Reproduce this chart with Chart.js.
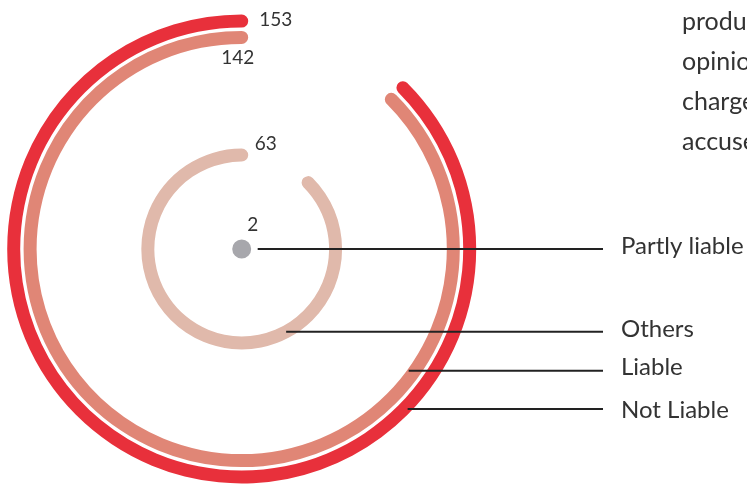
<!DOCTYPE html>
<html>
<head>
<meta charset="utf-8">
<script src="https://cdn.jsdelivr.net/npm/chart.js@4.4.0/dist/chart.umd.min.js"></script>
<style>
  html, body { margin: 0; padding: 0; background: #fff; overflow: hidden; }
  #wrap { position: relative; width: 747px; height: 484px; overflow: hidden; font-family: Lato, "Open Sans", sans-serif; }
  #chart { position: absolute; left: 0; top: 0; }
  #note { position: absolute; left: 682px; top: 0; font-size: 25px; line-height: 40px; color: #333; white-space: nowrap; }
</style>
</head>
<body>
<div id="wrap">
  <canvas id="chart" width="747" height="484"></canvas>
  <div id="note">products<br>opinion<br>charged<br>accused</div>
</div>
<script>
// verdict categories, outermost ring first
const categories = ["Not Liable", "Liable", "Others", "Partly liable"];
const counts = [153, 142, 63, 2];
const colors = ["#e8303b", "#e08676", "#e0b9ab", "#a7a7ac"];

const RADIUS = 234.5;   // outer edge of the biggest ring
const RING = 13;        // ring thickness
const SWEEP = 315;      // every ring opens at the top right

// ring centre radius is proportional to the count
const pxPerCase = (RADIUS - RING / 2) / Math.max(...counts);

const datasets = [];
counts.forEach((v, i) => {
  const mid = v * pxPerCase;
  if (i === counts.length - 1) {
    // tiny count -> just a dot in the middle
    datasets.push({
      label: categories[i], data: [v], weight: mid + RING / 2,
      circumference: 360, rotation: 0,
      backgroundColor: colors[i], borderWidth: 0
    });
    return;
  }
  const cap = (RING / 2) / mid * 180 / Math.PI; // round end sticks out past the sweep
  datasets.push({
    label: categories[i], data: [v], weight: RING,
    circumference: SWEEP + 2 * cap, rotation: 360 - SWEEP - cap,
    backgroundColor: colors[i], borderWidth: 0, borderRadius: RING / 2
  });
  const next = counts[i + 1] * pxPerCase + RING / 2;
  // empty ring to push the next one inwards
  datasets.push({ label: "", data: [1], weight: (mid - RING / 2) - next, backgroundColor: "rgba(0,0,0,0)", borderWidth: 0 });
});

const ringIndex = i => (i === counts.length - 1 ? datasets.length - 1 : i * 2);

// value labels: offset from the top of each ring
const valueLabels = [
  { dx: 17.5, dy: -1, align: "left" },
  { dx: -4, dy: 20, align: "center" },
  { dx: 13, dy: -11, align: "left" },
  { dx: 11, dy: -24, align: "center" }
];
// leader lines to the category names on the right
const leaders = [
  { dy: 160, from: "outer", textDy: 1 },
  { dy: 121.7, from: "inner", textDy: -3.5 },
  { dy: 82.7, from: "mid", textDy: -2.5 },
  { dy: 0, from: "dot", textDy: -3 }
];

const annotate = {
  id: "annotate",
  afterDatasetsDraw(chart) {
    const ctx = chart.ctx;
    ctx.save();
    counts.forEach((v, i) => {
      const arc = chart.getDatasetMeta(ringIndex(i)).data[0];
      const cx = arc.x, cy = arc.y;
      const inner = arc.innerRadius, outer = arc.outerRadius;
      const mid = i === counts.length - 1 ? 0 : (inner + outer) / 2;

      // leader line
      const L = leaders[i];
      const y = cy + L.dy;
      let x0;
      if (L.from === "dot") x0 = cx + outer + 6.5;
      else {
        const r = L.from === "outer" ? outer - 4 : L.from === "inner" ? inner + 1.5 : mid;
        x0 = cx + Math.sqrt(r * r - L.dy * L.dy);
      }
      ctx.strokeStyle = "#222";
      ctx.lineWidth = 2;
      ctx.beginPath();
      ctx.moveTo(x0, y);
      ctx.lineTo(603, y);
      ctx.stroke();

      ctx.fillStyle = "#333";
      ctx.textBaseline = "middle";
      ctx.font = "24px Lato";
      ctx.textAlign = "left";
      ctx.fillText(categories[i], 621, y + L.textDy);

      // count
      const V = valueLabels[i];
      ctx.font = "19px Lato";
      ctx.textAlign = V.align;
      ctx.fillText(String(v), cx + V.dx, cy - mid + V.dy);
    });
    ctx.restore();
  }
};

new Chart(document.getElementById("chart"), {
  type: "doughnut",
  data: { labels: ["count"], datasets },
  options: {
    responsive: false,
    animation: false,
    events: [],
    radius: RADIUS,
    cutout: 0,
    layout: { padding: { left: 0, right: 263.6, top: 14, bottom: 0 } },
    plugins: { legend: { display: false }, tooltip: { enabled: false } }
  },
  plugins: [annotate]
});
</script>
</body>
</html>
